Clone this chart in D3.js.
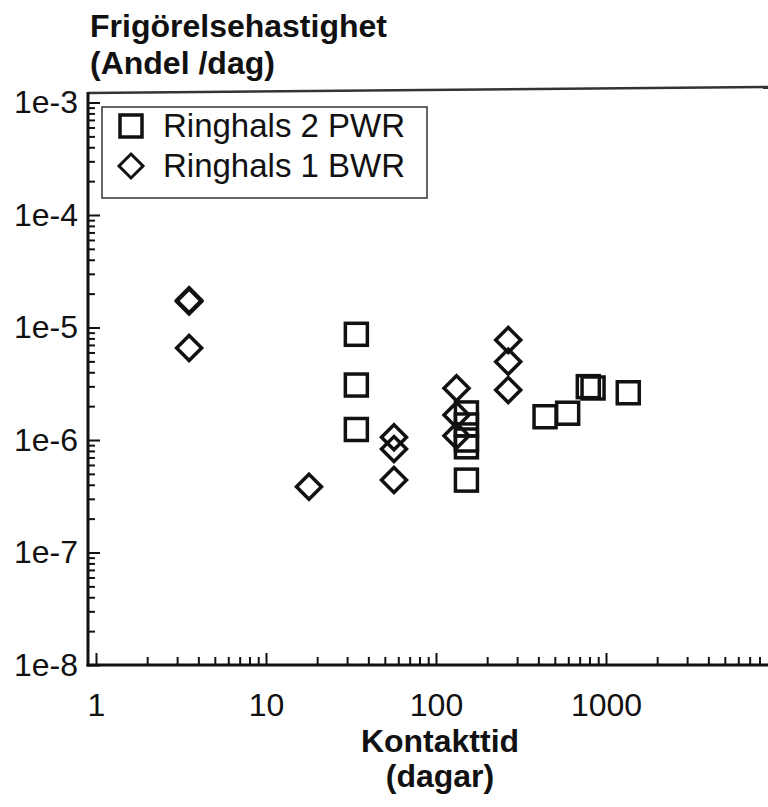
<!DOCTYPE html>
<html><head><meta charset="utf-8">
<script src="https://cdn.jsdelivr.net/npm/d3@7"></script>
<style>
html,body{margin:0;padding:0;background:#fff;}
svg{display:block;}
text{font-family:"Liberation Sans",Arial,Helvetica,sans-serif;fill:#111;}
</style></head>
<body>
<script>
// Data (contact time in days, release rate fraction/day)
const pwrDays  = [34, 34, 34, 151, 151, 151, 151, 151, 438, 595, 787, 839, 1352];
const pwrRates = [8.7e-6, 3.08e-6, 1.24e-6, 1.74e-6, 1.36e-6, 1.0e-6, 8.7e-7, 4.4e-7, 1.61e-6, 1.73e-6, 2.98e-6, 2.90e-6, 2.63e-6];
const bwrDays  = [3.53, 3.53, 3.53, 17.9, 56.6, 56.6, 56.6, 132, 132, 132, 266, 266, 266];
const bwrRates = [1.75e-5, 1.70e-5, 6.57e-6, 3.84e-7, 1.06e-6, 8.3e-7, 4.41e-7, 2.88e-6, 1.67e-6, 1.09e-6, 7.74e-6, 4.97e-6, 2.78e-6];
const xTickValues = [1, 10, 100, 1000];
const xTickLabels = ["1", "10", "100", "1000"];
const yTickValues = [1e-8, 1e-7, 1e-6, 1e-5, 1e-4, 1e-3];
const yTickLabels = ["1e-8", "1e-7", "1e-6", "1e-5", "1e-4", "1e-3"];
const seriesNames = ["Ringhals 2 PWR", "Ringhals 1 BWR"];

(function () {
const W = 768, H = 807;
const pL = 88, pR = 768, pT = 90, pB = 665;

const svg = d3.select("body").append("svg").attr("width", W).attr("height", H);

const x = d3.scaleLog().domain([1, 10000]).range([96, 776]);
const y = d3.scaleLog().domain([1e-8, 1e-3]).range([pB, 102.5]);

const xMinor = [];
for (let k = 0; k < 4; k++) for (let m = 2; m <= 9; m++) { const v = m * Math.pow(10, k); if (x(v) < pR - 2) xMinor.push(v); }
const yMinor = [];
for (let k = -8; k < -3; k++) for (let m = 2; m <= 9; m++) yMinor.push(m * Math.pow(10, k));

const fs = 32;
const gx = svg.append("g").attr("transform", `translate(0,${pB})`);
gx.call(d3.axisBottom(x).tickValues(xMinor).tickSize(-8).tickFormat(""));
gx.call(g => g.select(".domain").remove());
const gx2 = svg.append("g").attr("transform", `translate(0,${pB})`);
gx2.call(d3.axisBottom(x).tickValues(xTickValues).tickSize(-12).tickPadding(28)
  .tickFormat((d, i) => xTickLabels[i]));
gx2.call(g => g.select(".domain").remove());
gx2.selectAll("text").attr("font-size", fs).attr("font-family", '"Liberation Sans",Arial,sans-serif').attr("fill", "#111");

const gy = svg.append("g").attr("transform", `translate(${pL},0)`);
gy.call(d3.axisLeft(y).tickValues(yMinor).tickSize(-7).tickFormat(""));
gy.call(g => g.select(".domain").remove());
const gy2 = svg.append("g").attr("transform", `translate(${pL},0)`);
gy2.call(d3.axisLeft(y).tickValues(yTickValues).tickSize(-12).tickPadding(10)
  .tickFormat((d, i) => yTickLabels[i]));
gy2.call(g => g.select(".domain").remove());
gy2.selectAll("text").attr("font-size", fs).attr("font-family", '"Liberation Sans",Arial,sans-serif').attr("fill", "#111");
svg.selectAll("g .tick line").attr("stroke", "#111").attr("stroke-width", 2);

// frame (top edge slightly tilted as in the scan)
svg.append("line").attr("x1", pL).attr("x2", pR).attr("y1", pT + 3).attr("y2", pT - 3)
  .attr("stroke", "#333").attr("stroke-width", 2.5);
svg.append("line").attr("x1", pL).attr("x2", pL).attr("y1", pT + 2).attr("y2", pB + 1.5)
  .attr("stroke", "#111").attr("stroke-width", 3);
svg.append("line").attr("x1", pL - 1.5).attr("x2", pR).attr("y1", pB).attr("y2", pB)
  .attr("stroke", "#111").attr("stroke-width", 3);

const sq = 22, dg = 12.5, sw = 3.5;
const pwr = pwrDays.map((d, i) => ({ d, r: pwrRates[i] }));
const bwr = bwrDays.map((d, i) => ({ d, r: bwrRates[i] }));
svg.append("g").selectAll("rect").data(pwr).join("rect")
  .attr("x", p => x(p.d) - sq / 2).attr("y", p => y(p.r) - sq / 2)
  .attr("width", sq).attr("height", sq)
  .attr("fill", "none").attr("stroke", "#111").attr("stroke-width", sw);
const diamond = (cx, cy, r) => `M${cx},${cy - r}L${cx + r},${cy}L${cx},${cy + r}L${cx - r},${cy}Z`;
svg.append("g").selectAll("path").data(bwr).join("path")
  .attr("d", p => diamond(x(p.d), y(p.r), dg))
  .attr("fill", "none").attr("stroke", "#111").attr("stroke-width", sw);

const lg = svg.append("g");
lg.append("rect").attr("x", 102).attr("y", 107).attr("width", 325).attr("height", 91)
  .attr("fill", "#fff").attr("stroke", "#333").attr("stroke-width", 1.5);
lg.append("rect").attr("x", 131 - 11).attr("y", 126 - 11).attr("width", 22).attr("height", 22)
  .attr("fill", "none").attr("stroke", "#111").attr("stroke-width", 3.5);
lg.append("path").attr("d", diamond(131, 166, 12)).attr("fill", "none").attr("stroke", "#111").attr("stroke-width", 3);
lg.append("text").attr("x", 163).attr("y", 137).attr("font-size", 33).text(seriesNames[0]);
lg.append("text").attr("x", 163).attr("y", 177).attr("font-size", 33).text(seriesNames[1]);

svg.append("text").attr("x", 90).attr("y", 37).attr("font-size", 32).attr("font-weight", "bold").text("Frigörelsehastighet");
svg.append("text").attr("x", 90).attr("y", 74).attr("font-size", 32).attr("font-weight", "bold").text("(Andel /dag)");
svg.append("text").attr("x", 440).attr("y", 752).attr("font-size", 32).attr("font-weight", "bold").attr("text-anchor", "middle").text("Kontakttid");
svg.append("text").attr("x", 440).attr("y", 787).attr("font-size", 32).attr("font-weight", "bold").attr("text-anchor", "middle").text("(dagar)");
})();
</script>
</body></html>
